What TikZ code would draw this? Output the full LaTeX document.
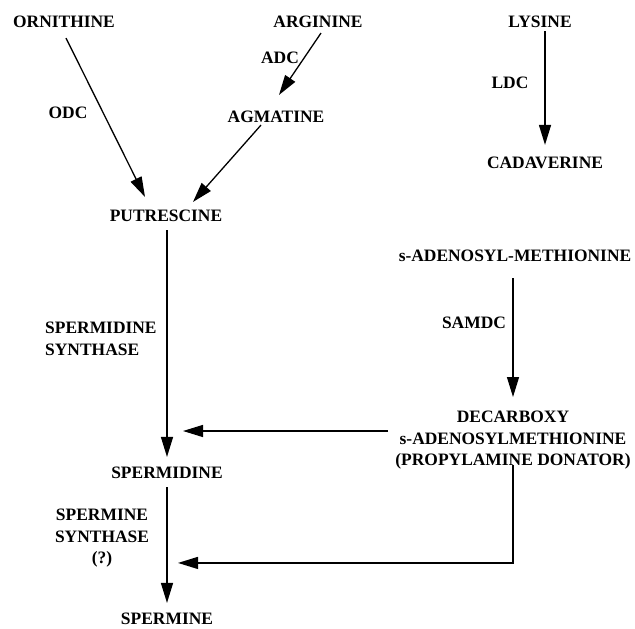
\documentclass[tikz,border=0pt]{standalone}
\usepackage{fontspec}
\setmainfont{Liberation Serif}
\usetikzlibrary{arrows.meta,calc}

\begin{document}
\begin{tikzpicture}[x=1bp,y=-1bp,
    compound/.style={font=\fontsize{17.5}{21.5}\selectfont\bfseries,inner sep=0pt},
    arr/.style={line width=1.3bp,-{Triangle[length=20bp,width=12bp]}}]
  \useasboundingbox (0,0) rectangle (635,629);

  % amino acids and amines
  \node[compound] (orn) at (64,22) {ORNITHINE};
  \node[compound] (arg) at (318,22) {ARGININE};
  \node[compound] (lys) at (540,22) {LYSINE};
  \node[compound] (agm) at (276,117) {AGMATINE};
  \node[compound] (cad) at (545,163) {CADAVERINE};
  \node[compound] (put) at (166,216) {PUTRESCINE};
  \node[compound] (sam) at (515,256) {s-ADENOSYL-METHIONINE};
  \node[compound,anchor=north,align=center] (dsam) at (513,411)
    {DECARBOXY\\s-ADENOSYLMETHIONINE\\(PROPYLAMINE DONATOR)};
  \node[compound] (spd) at (167,473) {SPERMIDINE};
  \node[compound] (spm) at (167,619) {SPERMINE};

  % enzymes
  \node[compound] (odc) at (68,113) {ODC};
  \node[compound] (adc) at (280,58) {ADC};
  \node[compound] (ldc) at (510,83) {LDC};
  \node[compound] (samdc) at (474,323) {SAMDC};
  \node[compound,anchor=north west,align=left] (spdsyn) at (45,322)
    {SPERMIDINE\\SYNTHASE};
  \node[compound,anchor=north,align=center] (spmsyn) at (102,509)
    {SPERMINE\\SYNTHASE\\(?)};

  % reactions
  \draw[arr] ([shift={(2,10)}]orn.south) -- ([shift={(-21,-13)}]put.north);
  \draw[arr] ([shift={(3,5)}]arg.south) -- ([shift={(3,-16)}]agm.north);
  \draw[arr] ([shift={(-15,2)}]agm.south) -- ([shift={(27,-8)}]put.north);
  \draw[arr] ([shift={(5,3)}]lys.south) -- ([shift={(0,-12)}]cad.north);
  \draw[arr] ([shift={(1,8)}]put.south) -- ([shift={(0,-10)}]spd.north);
  \draw[arr] ([shift={(-2,16)}]sam.south) -- ([shift={(0,-14)}]dsam.north);
  \draw[arr] ([shift={(0,8)}]spd.south) -- ([shift={(0,-10)}]spm.north);

  % propylamine transfer
  \coordinate (dj) at ([shift={(-7,20)}]dsam.north west);
  \draw[arr] (dj) -- ($(dj -| spd)+(16,0)$);
  \draw[arr] ([yshift=5]dsam.south) |- ($(spm.north)+(11,-50)$);
\end{tikzpicture}
\end{document}
